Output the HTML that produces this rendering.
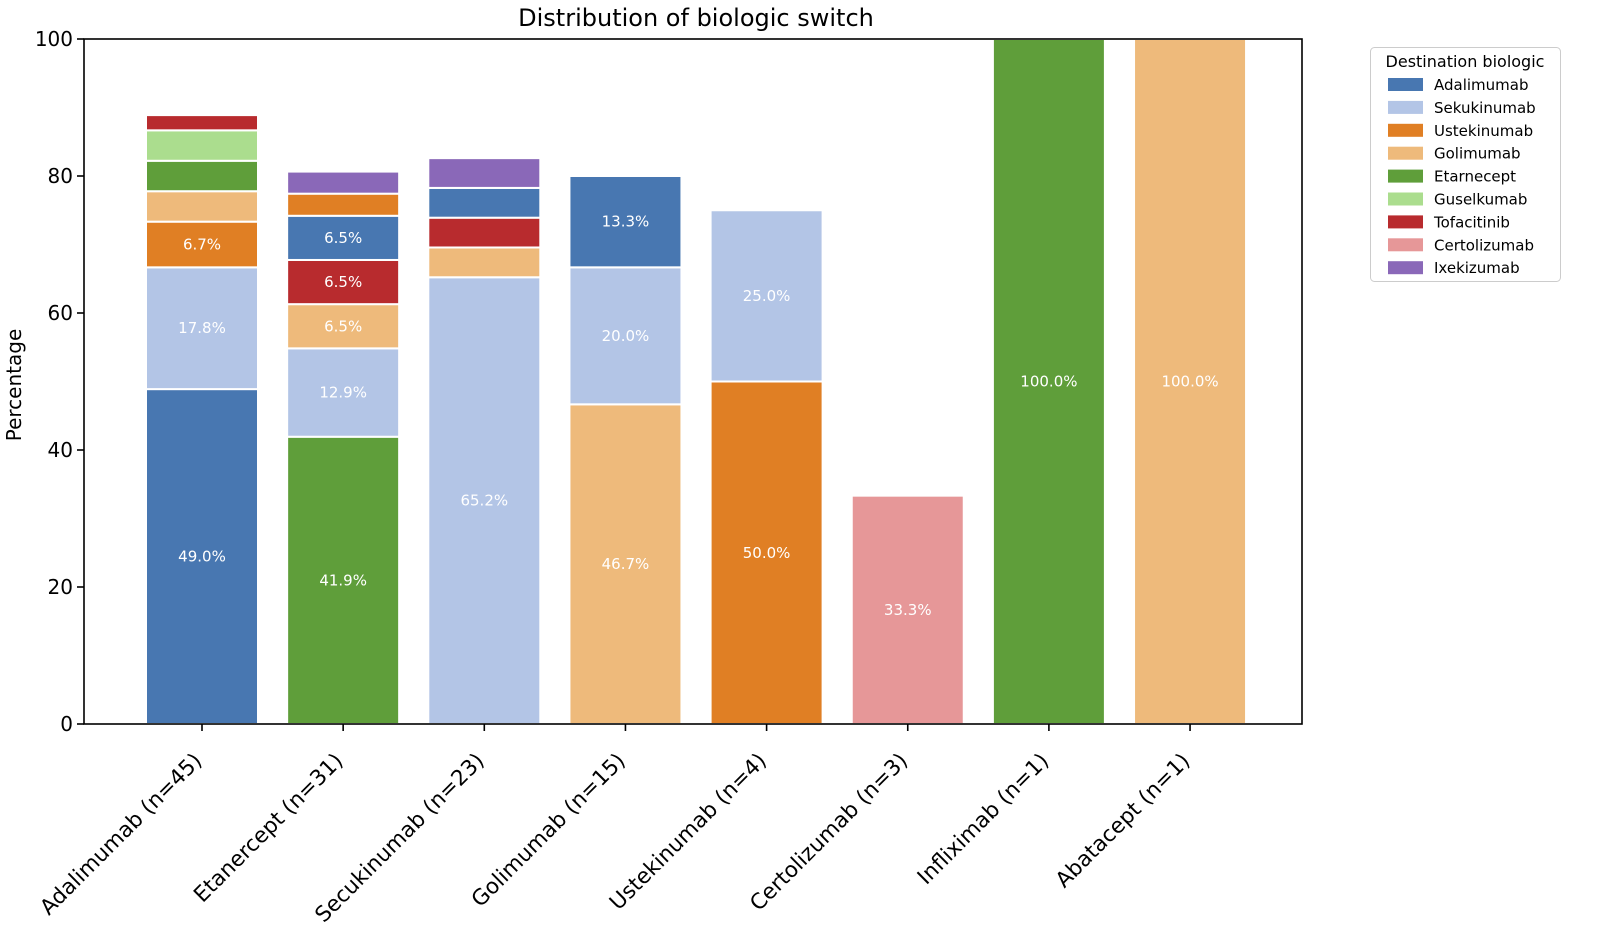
<!DOCTYPE html>
<html><head><meta charset="utf-8"><style>body{margin:0;background:#fff}svg{display:block}</style></head><body>
<svg width="1606" height="946" xmlns="http://www.w3.org/2000/svg" font-family="'DejaVu Sans','Liberation Sans',sans-serif">
<rect width="1606" height="946" fill="#fff"/>
<g id="bars" stroke="#fff" stroke-width="2"></g>
<g id="labels" fill="#fff" font-size="15" text-anchor="middle"></g>
<rect x="84" y="39" width="1218" height="685" fill="none" stroke="#000" stroke-width="1.6"/>
<g id="axes" font-size="20" fill="#000"></g>
<text x="696" y="26" font-size="24" text-anchor="middle">Distribution of biologic switch</text>
<text transform="translate(21,385) rotate(-90)" font-size="20" text-anchor="middle">Percentage</text>
<g id="legend"></g>
<script>
var C={Ada:'#4877b1',Sek:'#b3c5e6',Ust:'#e07f24',Gol:'#eeba7b',Eta:'#5f9e3a',Gus:'#abdd8e',Tof:'#b82b2e',Cer:'#e69798',Ixe:'#8a68b8'};
var data=[
 ['Adalimumab (n=45)',45,[['Ada',22,'49.0%'],['Sek',8],['Ust',3],['Gol',2],['Eta',2],['Gus',2],['Tof',1]]],
 ['Etanercept (n=31)',31,[['Eta',13],['Sek',4],['Gol',2],['Tof',2],['Ada',2],['Ust',1],['Ixe',1]]],
 ['Secukinumab (n=23)',23,[['Sek',15],['Gol',1],['Tof',1],['Ada',1],['Ixe',1]]],
 ['Golimumab (n=15)',15,[['Gol',7],['Sek',3],['Ada',2]]],
 ['Ustekinumab (n=4)',4,[['Ust',2],['Sek',1]]],
 ['Certolizumab (n=3)',3,[['Cer',1]]],
 ['Infliximab (n=1)',1,[['Eta',1]]],
 ['Abatacept (n=1)',1,[['Gol',1]]]];
var ns='http://www.w3.org/2000/svg';
function el(p,t,a,txt){var e=document.createElementNS(ns,t);for(var k in a)e.setAttribute(k,a[k]);if(txt!=null)e.textContent=txt;p.appendChild(e);return e;}
var B=document.getElementById('bars'),L=document.getElementById('labels'),A=document.getElementById('axes');
function Y(v){return 724-v*6.85;}
data.forEach(function(d,i){var cx=202+i*141.15,cum=0;
 d[2].forEach(function(s){var p=s[1]/d[1]*100;var y0=Y(cum),y1=Y(cum+p);
  el(B,'rect',{x:cx-56,y:y1,width:112,height:y0-y1,fill:C[s[0]]});
  if(p>=5)el(L,'text',{x:cx,y:(y0+y1)/2+5},s[2]||(p.toFixed(1)+'%'));cum+=p;});
 el(A,'line',{x1:cx,x2:cx,y1:724,y2:731,stroke:'#000','stroke-width':1.6});
 el(A,'text',{'text-anchor':'end','font-size':21.5,transform:'translate('+(cx+1)+',762) rotate(-45)'},d[0]);
});
for(var v=0;v<=100;v+=20){var y=Y(v);el(A,'line',{x1:77,x2:84,y1:y,y2:y,stroke:'#000','stroke-width':1.6});el(A,'text',{x:73,y:y+7,'text-anchor':'end'},v);}
var G=document.getElementById('legend');
el(G,'rect',{x:1370.5,y:47.5,width:190,height:234,rx:4,fill:'#fff',stroke:'#ccc'});
el(G,'text',{x:1465,y:67,'font-size':16,'text-anchor':'middle'},'Destination biologic');
var names=[['Ada','Adalimumab'],['Sek','Sekukinumab'],['Ust','Ustekinumab'],['Gol','Golimumab'],['Eta','Etarnecept'],['Gus','Guselkumab'],['Tof','Tofacitinib'],['Cer','Certolizumab'],['Ixe','Ixekizumab']];
names.forEach(function(n,i){var y=85+i*22.9;el(G,'rect',{x:1388,y:y-7,width:35,height:13,fill:C[n[0]]});el(G,'text',{x:1434,y:y+5,'font-size':15},n[1]);});
</script>
</svg>
</body></html>
